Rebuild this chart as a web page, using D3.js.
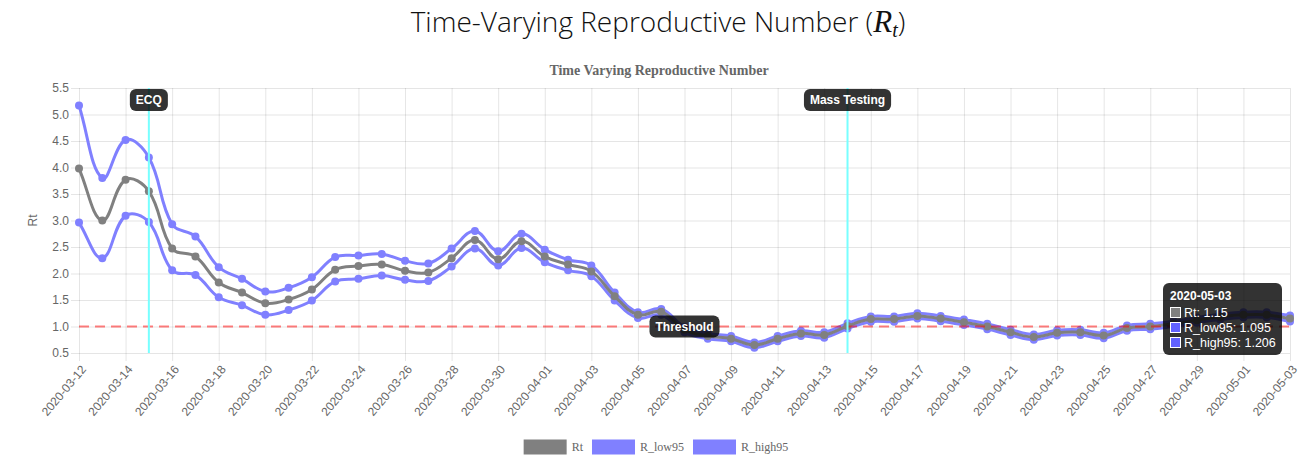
<!DOCTYPE html>
<html>
<head>
<meta charset="utf-8">
<script src="https://cdn.jsdelivr.net/npm/d3@7"></script>
<style>
  body { margin: 0; background: #fff; }
  svg { display: block; }
</style>
</head>
<body>
<svg id="chart" width="1311" height="457"></svg>
<script>
// --- data ---
const dates = [
  '2020-03-12', '2020-03-13', '2020-03-14', '2020-03-15', '2020-03-16', '2020-03-17',
  '2020-03-18', '2020-03-19', '2020-03-20', '2020-03-21', '2020-03-22', '2020-03-23',
  '2020-03-24', '2020-03-25', '2020-03-26', '2020-03-27', '2020-03-28', '2020-03-29',
  '2020-03-30', '2020-03-31', '2020-04-01', '2020-04-02', '2020-04-03', '2020-04-04',
  '2020-04-05', '2020-04-06', '2020-04-07', '2020-04-08', '2020-04-09', '2020-04-10',
  '2020-04-11', '2020-04-12', '2020-04-13', '2020-04-14', '2020-04-15', '2020-04-16',
  '2020-04-17', '2020-04-18', '2020-04-19', '2020-04-20', '2020-04-21', '2020-04-22',
  '2020-04-23', '2020-04-24', '2020-04-25', '2020-04-26', '2020-04-27', '2020-04-28',
  '2020-04-29', '2020-04-30', '2020-05-01', '2020-05-02', '2020-05-03'
];
const rt = [
  3.98, 3.00, 3.77, 3.55, 2.47, 2.32, 1.83, 1.64, 1.44, 1.51, 1.70, 2.07,
  2.14, 2.17, 2.05, 2.02, 2.29, 2.63, 2.27, 2.61, 2.32, 2.17, 2.04, 1.57,
  1.22, 1.28, 0.94, 0.82, 0.77, 0.65, 0.77, 0.87, 0.84, 1.01, 1.14, 1.14,
  1.20, 1.15, 1.08, 1.00, 0.89, 0.80, 0.88, 0.89, 0.83, 0.97, 1.00, 1.05,
  1.12, 1.18, 1.22, 1.22, 1.15
];
const rLow95 = [
  2.96, 2.29, 3.09, 2.97, 2.06, 1.97, 1.55, 1.40, 1.22, 1.31, 1.49, 1.85,
  1.90, 1.96, 1.88, 1.86, 2.13, 2.47, 2.15, 2.48, 2.21, 2.06, 1.95, 1.49,
  1.16, 1.22, 0.89, 0.77, 0.72, 0.60, 0.72, 0.82, 0.79, 0.96, 1.09, 1.09,
  1.15, 1.10, 1.03, 0.95, 0.84, 0.75, 0.83, 0.84, 0.78, 0.92, 0.95, 1.00,
  1.07, 1.13, 1.17, 1.17, 1.095
];
const rHigh95 = [
  5.17, 3.80, 4.52, 4.19, 2.93, 2.70, 2.12, 1.90, 1.66, 1.73, 1.93, 2.31,
  2.34, 2.37, 2.24, 2.19, 2.47, 2.80, 2.42, 2.75, 2.45, 2.26, 2.15, 1.64,
  1.27, 1.33, 0.99, 0.87, 0.82, 0.70, 0.82, 0.92, 0.89, 1.06, 1.19, 1.19,
  1.25, 1.20, 1.13, 1.05, 0.94, 0.85, 0.93, 0.94, 0.88, 1.02, 1.05, 1.10,
  1.17, 1.23, 1.27, 1.27, 1.206
];
const yTicks = [0.5, 1.0, 1.5, 2.0, 2.5, 3.0, 3.5, 4.0, 4.5, 5.0, 5.5];
const eventDates = ['2020-03-15', '2020-04-14'];
const eventLabels = ['ECQ', 'Mass Testing'];
const thresholdValue = 1.0;
const thresholdLabel = 'Threshold';
const hoverDate = '2020-05-03';

const GREY = '#808080';
const BLUE = '#8080ff';
const SANS = 'Arial, "Liberation Sans", sans-serif';
const SERIF = '"Liberation Serif", "Times New Roman", serif';

// datasets, in Chart.js draw order (last dataset drawn first)
const datasets = [
  { name: 'Rt', values: rt, color: GREY, box: GREY },
  { name: 'R_low95', values: rLow95, color: BLUE, box: '#6262ff' },
  { name: 'R_high95', values: rHigh95, color: BLUE, box: '#6262ff' }
];

const area = { left: 79, right: 1290, top: 88, bottom: 353 };
const centerX = 656;

const svg = d3.select('#chart');

const x = d3.scalePoint().domain(dates).range([area.left, area.right]);
const y = d3.scaleLinear().domain([0.5, 5.5]).range([area.bottom, area.top]);

// --- page title ---
const title = svg.append('text')
  .attr('x', centerX + 2)
  .attr('y', 32)
  .attr('text-anchor', 'middle')
  .style('font-family', '"Open Sans", sans-serif')
  .style('font-weight', 300)
  .style('font-size', '28px')
  .attr('fill', '#111');
title.append('tspan').text('Time-Varying Reproductive Number (');
title.append('tspan').text('R')
  .style('font-family', SERIF).style('font-style', 'italic').style('font-size', '31px');
title.append('tspan').text('t')
  .attr('dy', 5)
  .style('font-family', SERIF).style('font-style', 'italic').style('font-size', '20px');
title.append('tspan').text(')').attr('dy', -5);

// --- chart title ---
svg.append('text')
  .attr('x', centerX + 3)
  .attr('y', 75)
  .attr('text-anchor', 'middle')
  .style('font-family', SERIF)
  .style('font-weight', 'bold')
  .style('font-size', '14px')
  .attr('fill', '#666')
  .text('Time Varying Reproductive Number');

// --- axes and grid ---
const yAxis = svg.append('g')
  .attr('transform', `translate(${area.left},0)`)
  .call(d3.axisLeft(y).tickValues(yTicks).tickFormat(d3.format('.1f')).tickSizeOuter(0));
yAxis.select('.domain').remove();
yAxis.selectAll('.tick line')
  .attr('x1', -8)
  .attr('x2', area.right - area.left)
  .attr('stroke', 'rgba(0,0,0,0.1)');
yAxis.selectAll('.tick text')
  .attr('x', -10)
  .attr('fill', '#666')
  .style('font-family', SANS)
  .style('font-size', '12px');

const xAxis = svg.append('g')
  .attr('transform', `translate(0,${area.bottom})`)
  .call(d3.axisBottom(x).tickValues(dates.filter((d, i) => i % 2 === 0)).tickSizeOuter(0));
xAxis.select('.domain').remove();
xAxis.selectAll('.tick line')
  .attr('y1', 8)
  .attr('y2', area.top - area.bottom)
  .attr('stroke', 'rgba(0,0,0,0.1)');
xAxis.selectAll('.tick text')
  .attr('x', 0)
  .attr('y', 0)
  .attr('dy', '0.35em')
  .attr('text-anchor', 'end')
  .attr('transform', 'translate(4,14) rotate(-50)')
  .attr('fill', '#666')
  .style('font-family', SANS)
  .style('font-size', '12px');

svg.append('text')
  .attr('transform', `translate(37,${(area.top + area.bottom) / 2}) rotate(-90)`)
  .attr('text-anchor', 'middle')
  .attr('fill', '#666')
  .style('font-family', SANS)
  .style('font-size', '12px')
  .text('Rt');

// --- Chart.js style spline (tension 0.4) built on scaled points ---
function splinePath(pts, t) {
  const clampY = v => Math.max(area.top, Math.min(area.bottom, v));
  const cps = pts.map((p, i) => {
    const prev = pts[i - 1] || p;
    const next = pts[i + 1] || p;
    const d01 = Math.hypot(p[0] - prev[0], p[1] - prev[1]);
    const d12 = Math.hypot(next[0] - p[0], next[1] - p[1]);
    let s01 = d01 / (d01 + d12);
    let s12 = d12 / (d01 + d12);
    if (!isFinite(s01)) s01 = 0;
    if (!isFinite(s12)) s12 = 0;
    const fa = t * s01, fb = t * s12;
    return {
      prev: [p[0] - fa * (next[0] - prev[0]), clampY(p[1] - fa * (next[1] - prev[1]))],
      next: [p[0] + fb * (next[0] - prev[0]), clampY(p[1] + fb * (next[1] - prev[1]))]
    };
  });
  const path = d3.path();
  path.moveTo(pts[0][0], pts[0][1]);
  for (let i = 1; i < pts.length; i++) {
    path.bezierCurveTo(cps[i - 1].next[0], cps[i - 1].next[1],
      cps[i].prev[0], cps[i].prev[1], pts[i][0], pts[i][1]);
  }
  return path.toString();
}

const plot = svg.append('g');
datasets.slice().reverse().forEach(ds => {
  const pts = ds.values.map((v, i) => [x(dates[i]), y(v)]);
  const g = plot.append('g');
  g.append('path')
    .attr('d', splinePath(pts, 0.4))
    .attr('fill', 'none')
    .attr('stroke', ds.color)
    .attr('stroke-width', 3);
  g.selectAll('circle')
    .data(ds.values)
    .enter()
    .append('circle')
    .attr('cx', (d, i) => x(dates[i]))
    .attr('cy', d => y(d))
    .attr('r', 4)
    .attr('fill', ds.color);
});

// --- annotations ---
const ann = svg.append('g');
ann.append('line')
  .attr('x1', area.left).attr('x2', area.right)
  .attr('y1', y(thresholdValue)).attr('y2', y(thresholdValue))
  .attr('stroke', 'rgba(255,0,0,0.5)')
  .attr('stroke-width', 2)
  .attr('stroke-dasharray', '10,6');

eventDates.forEach(d => {
  ann.append('line')
    .attr('x1', x(d)).attr('x2', x(d))
    .attr('y1', area.top).attr('y2', area.bottom)
    .attr('stroke', 'rgb(120,255,255)')
    .attr('stroke-width', 2);
});

function labelBox(cx, cy, text) {
  const g = ann.append('g');
  const rect = g.append('rect').attr('rx', 6).attr('fill', 'rgba(0,0,0,0.8)');
  const t = g.append('text')
    .attr('x', cx).attr('y', cy)
    .attr('dy', '0.35em')
    .attr('text-anchor', 'middle')
    .attr('fill', '#fff')
    .style('font-family', SANS)
    .style('font-weight', 'bold')
    .style('font-size', '12px')
    .text(text);
  const w = t.node().getComputedTextLength() + 12;
  rect.attr('x', cx - w / 2).attr('y', cy - 11).attr('width', w).attr('height', 22);
}
eventDates.forEach((d, i) => labelBox(x(d), area.top + 12, eventLabels[i]));
labelBox((area.left + area.right) / 2, y(thresholdValue), thresholdLabel);

// --- tooltip for hovered date ---
const hi = dates.indexOf(hoverDate);
const tip = svg.append('g').attr('transform', 'translate(1163,283)');
tip.append('rect')
  .attr('width', 119).attr('height', 72).attr('rx', 6)
  .attr('fill', 'rgba(0,0,0,0.8)');
tip.append('text')
  .attr('x', 7).attr('y', 17)
  .attr('fill', '#fff')
  .style('font-family', SANS)
  .style('font-weight', 'bold')
  .style('font-size', '12px')
  .text(hoverDate);
datasets.forEach((ds, i) => {
  const ry = 30 + i * 15;
  tip.append('rect')
    .attr('x', 7.5).attr('y', ry - 5.5)
    .attr('width', 10).attr('height', 10)
    .attr('fill', ds.box)
    .attr('stroke', '#fff')
    .attr('stroke-width', 1);
  tip.append('text')
    .attr('x', 21).attr('y', ry)
    .attr('dy', '0.35em')
    .attr('fill', '#fff')
    .style('font-family', SANS)
    .style('font-size', '12.5px')
    .text(`${ds.name}: ${ds.values[hi]}`);
});

// --- legend ---
const legend = svg.append('g');
const items = [];
let cursor = 0;
datasets.forEach(ds => {
  const g = legend.append('g');
  g.append('rect')
    .attr('x', 1.5).attr('y', -6)
    .attr('width', 40).attr('height', 12)
    .attr('fill', ds.color)
    .attr('stroke', ds.color)
    .attr('stroke-width', 3);
  const t = g.append('text')
    .attr('x', 48).attr('dy', '0.35em')
    .attr('fill', '#666')
    .style('font-family', SERIF)
    .style('font-size', '12px')
    .text(ds.name);
  const w = 48 + t.node().getComputedTextLength();
  items.push({ g, x: cursor });
  cursor += w + 9;
});
const total = cursor - 9;
items.forEach(it => it.g.attr('transform', `translate(${centerX - total / 2 + it.x},447)`));
</script>
</body>
</html>
